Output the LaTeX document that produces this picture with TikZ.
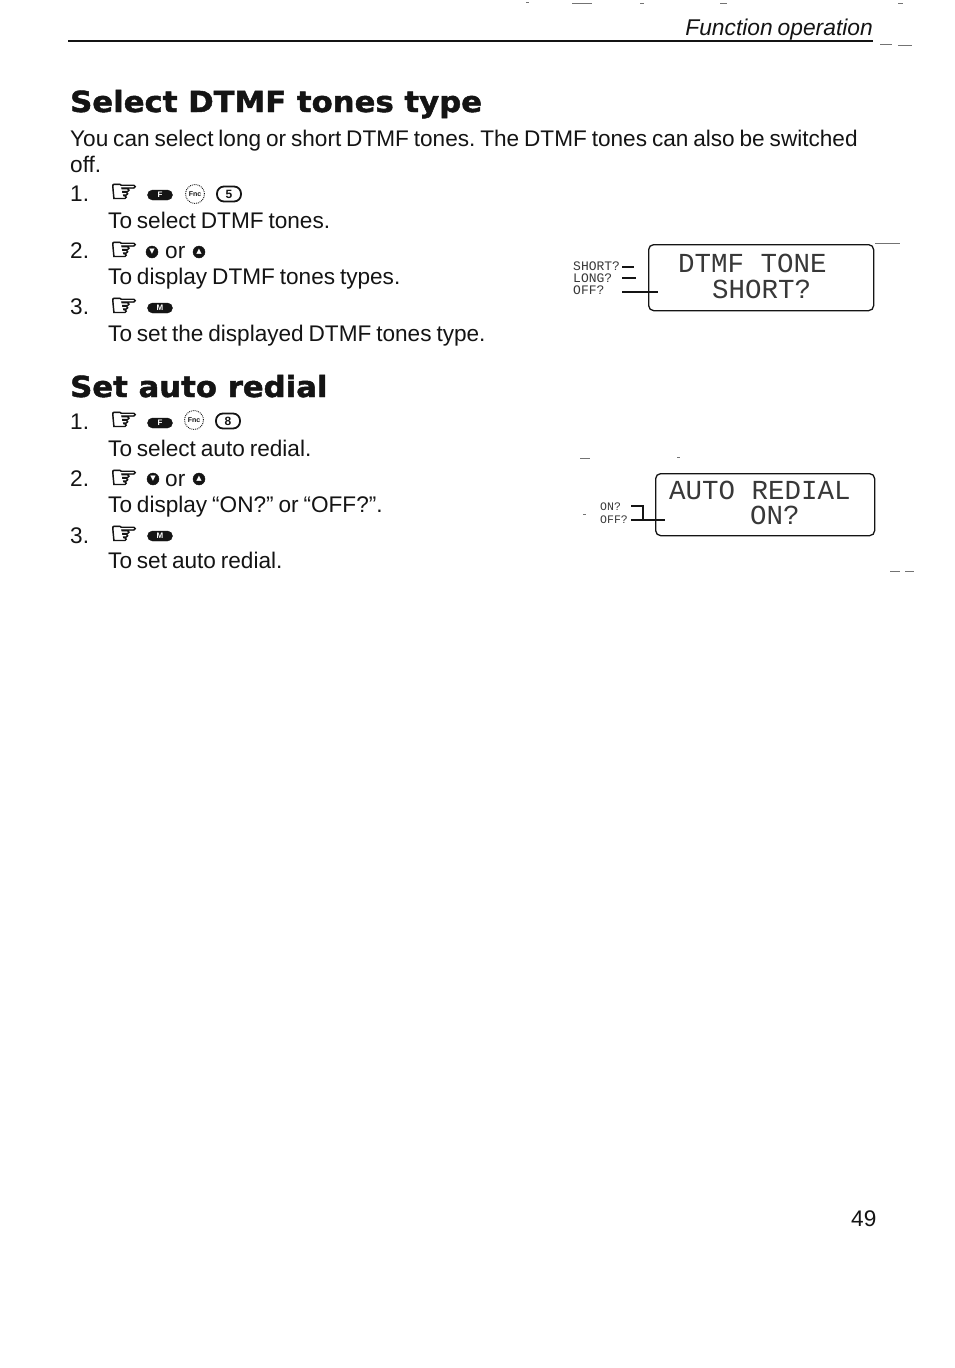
\documentclass[tikz,border=0pt]{standalone}
\usepackage{fontspec}
\setmainfont[WordSpace=0.78]{Liberation Sans}
\newfontfamily\headfont[FakeStretch=1.06,FakeBold=1.6]{DejaVu Sans Bold}
\newfontfamily\lcdfont{Liberation Mono}
\newfontfamily\symfont[FakeBold=2.5]{DejaVu Sans}
\newfontfamily\symplain{DejaVu Sans}
\definecolor{ink}{gray}{0.08}
\definecolor{lcd}{gray}{0.22}
\frenchspacing
\tikzset{
  body/.style={anchor=base west,inner sep=0pt,text=ink,font=\fontsize{22.6}{24}\selectfont},
  headg/.style={anchor=base west,inner sep=0pt,text=ink,font=\headfont\fontsize{29}{30}\selectfont},
  lcdtext/.style={anchor=base west,inner sep=0pt,text=lcd,font=\lcdfont\fontsize{27.5}{30}\selectfont},
  small/.style={anchor=base west,inner sep=0pt,text=lcd,font=\lcdfont\fontsize{13}{14}\selectfont},
  smaller/.style={small,font=\lcdfont\fontsize{11.5}{12}\selectfont},
  hand/.style={anchor=center,inner sep=0pt,text=ink,font=\symfont\fontsize{32}{33}\selectfont},
  pill/.style={draw=ink,fill=ink,rounded corners=5pt,minimum width=25pt,minimum height=10pt,inner sep=0pt,text=white,font=\bfseries\fontsize{8}{8}\selectfont},
  fnc/.style={draw=ink,densely dotted,line width=0.9pt,circle,minimum size=19pt,inner sep=0pt,text=ink,font=\bfseries\fontsize{7}{7}\selectfont},
  keyc/.style={draw=ink,line width=1.8pt,rounded corners=7pt,minimum width=24pt,minimum height=15pt,inner sep=0pt,text=ink,font=\bfseries\fontsize{12}{12}\selectfont},
  arrowkey/.style={draw=ink,fill=ink,circle,minimum size=12pt,inner sep=0pt,text=white,font=\symplain\fontsize{7}{7}\selectfont},
  lcdbox/.style={draw=ink,line width=1.3pt,rounded corners=5pt,anchor=north west,inner sep=0pt},
  wire/.style={draw=ink,line width=1.2pt},
  speck/.style={draw=black!55,line width=0.8pt}
}
\begin{document}
\begin{tikzpicture}[x=1pt,y=-1pt]
\useasboundingbox (0,0) rectangle (954,1368);
\fill[white] (0,0) rectangle (954,1368);
% header
\node[body,anchor=base east,font=\itshape\fontsize{22.8}{24}\selectfont] (hdr) at (873,35) {Function operation};
\coordinate (rulea) at (68,41); \coordinate (ruleb) at (873,41);
\draw[draw=ink,line width=1.8pt] (rulea) -- (ruleb);
\foreach \a/\b/\y in {572/592/3,526/529/2,640/644/3,720/727/3,898/903/3,880/892/44,898/912/45,890/900/571,905/914/571,875/900/243,580/590/458,677/680/457,583/586/514}{\draw[speck] (\a,\y) -- (\b,\y);}
% section 1
\node[headg] (t1) at (70,112) {Select DTMF tones type};
\node[body] (p1) at (70,146) {You can select long or short DTMF tones. The DTMF tones can also be switched};
\node[body] (p2) at (70,172) {off.};
\node[body] (n1) at (70,201) {1.};
\node[hand] (h1) at (124,193) {☞};
\node[pill] (k1) at (160,195) {F};
\node[fnc] (f1) at (195,194) {Fnc};
\node[keyc] (d1) at (229,194) {5};
\node[body] (s1) at (108,228) {To select DTMF tones.};
\node[body] (n2) at (70,258) {2.};
\node[hand] (h2) at (124,251) {☞};
\node[arrowkey] (a1) at (152,252) {▼};
\node[body] (or1) at (165,258) {or};
\node[arrowkey] (a2) at (199,252) {▲};
\node[body] (s2) at (108,284) {To display DTMF tones types.};
\node[body] (n3) at (70,314) {3.};
\node[hand] (h3) at (124,307) {☞};
\node[pill] (k2) at (160,308) {M};
\node[body] (s3) at (108,341) {To set the displayed DTMF tones type.};
% lcd 1
\node[lcdbox,minimum width=225pt,minimum height=66pt] (b1) at (648,244) {};
\node[lcdtext] (l1) at (678,272) {DTMF TONE};
\node[lcdtext] (l2) at (712,298) {SHORT?};
\node[small] (o1) at (573,270) {SHORT?};
\node[small] (o2) at (573,282) {LONG?};
\node[small] (o3) at (573,294) {OFF?};
\coordinate (w1) at (634,267); \coordinate (w2) at (636,278); \coordinate (w3) at (658,292);
\coordinate (w0) at (622,0);
\draw[wire] (w0 |- w1) -- (w1);
\draw[wire] (w0 |- w2) -- (w2);
\draw[wire] (w0 |- w3) -- (w3);
% section 2
\node[headg] (t2) at (70,397) {Set auto redial};
\node[body] (n4) at (70,429) {1.};
\node[hand] (h4) at (124,421) {☞};
\node[pill] (k3) at (160,423) {F};
\node[fnc] (f2) at (194,420) {Fnc};
\node[keyc] (d2) at (228,421) {8};
\node[body] (s4) at (108,456) {To select auto redial.};
\node[body] (n5) at (70,486) {2.};
\node[hand] (h5) at (124,479) {☞};
\node[arrowkey] (a3) at (153,479) {▼};
\node[body] (or2) at (165,486) {or};
\node[arrowkey] (a4) at (199,479) {▲};
\node[body] (s5) at (108,512) {To display “ON?” or “OFF?”.};
\node[body] (n6) at (70,543) {3.};
\node[hand] (h6) at (124,535) {☞};
\node[pill] (k4) at (160,536) {M};
\node[body] (s6) at (108,568) {To set auto redial.};
% lcd 2
\node[lcdbox,minimum width=219pt,minimum height=62pt] (b2) at (655,473) {};
\node[lcdtext] (l3) at (669,499) {AUTO REDIAL};
\node[lcdtext] (l4) at (750,524) {ON?};
\node[smaller] (o4) at (600,510) {ON?};
\node[smaller] (o5) at (600,523) {OFF?};
\coordinate (w4) at (643,506); \coordinate (w5) at (665,520); \coordinate (w6) at (631,0);
\draw[wire] (w6 |- w4) -- (w4) -- (w4 |- w5);
\draw[wire] (w6 |- w5) -- (w5);
% page number
\node[body] (pg) at (851,1226) {49};
\end{tikzpicture}
\end{document}
